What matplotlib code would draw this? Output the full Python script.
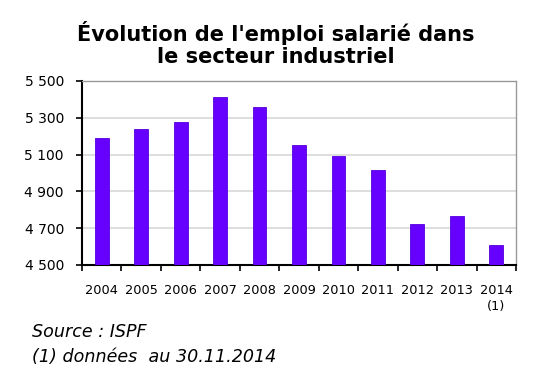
import matplotlib
matplotlib.use("Agg")
import matplotlib.pyplot as plt

years = ["2004", "2005", "2006", "2007", "2008", "2009", "2010", "2011", "2012", "2013", "2014\n(1)"]
values = [5190, 5241, 5277, 5415, 5357, 5152, 5091, 5018, 4723, 4766, 4609]
yticks = [4500, 4700, 4900, 5100, 5300, 5500]
ytick_labels = ["4 500", "4 700", "4 900", "5 100", "5 300", "5 500"]

fig = plt.figure(figsize=(5.34, 3.85), dpi=100)
ax = fig.add_axes([82/534, 1 - 265/385, 434/534, 184/385])

x = list(range(len(years)))
ax.bar(x, values, width=0.35, color="#6600FF", edgecolor="#5500DD", linewidth=0.6, zorder=3)
ax.set_xlim(-0.5, len(years) - 0.5)
ax.set_ylim(4500, 5500)
ax.set_yticks(yticks)
ax.set_yticklabels(ytick_labels, fontsize=10)
ax.set_xticks(x)
ax.set_xticklabels(years, fontsize=9.3, linespacing=1.3)
ax.tick_params(axis="x", length=0, pad=14)
ax.set_xticks([i + 0.5 for i in range(-1, len(years))], minor=True)
ax.tick_params(axis="x", which="minor", length=4, width=1.2, direction="out", color="black")
ax.tick_params(axis="y", length=4, width=1.2, direction="out", pad=9)
ax.grid(axis="y", color="#d8d8d8", linewidth=1.2, zorder=0)

for s in ["top", "right"]:
    ax.spines[s].set_color("#999999")
    ax.spines[s].set_linewidth(1.0)
for s in ["left", "bottom"]:
    ax.spines[s].set_color("black")
    ax.spines[s].set_linewidth(1.5)

fig.text(276/534, 1 - 44/385, "Évolution de l'emploi salarié dans\nle secteur industriel",
         ha="center", va="center", fontsize=15, fontweight="bold", linespacing=1.15)

fig.text(32/534, 1 - 332/385, "Source : ISPF", fontsize=12.6, style="italic", va="center")
fig.text(32/534, 1 - 357/385, "(1) données  au 30.11.2014", fontsize=12.6, style="italic", va="center")

fig.savefig("out.png", dpi=100)
